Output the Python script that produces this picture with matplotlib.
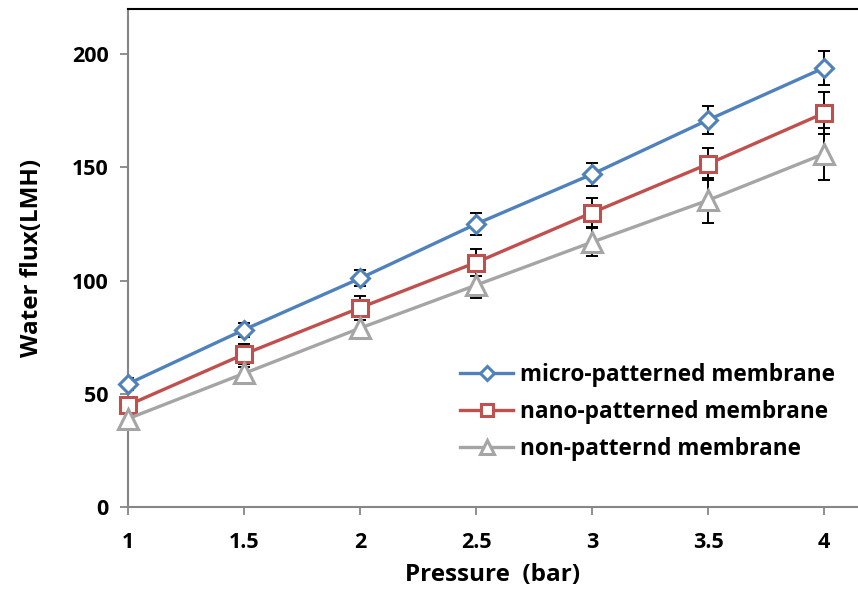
import matplotlib
matplotlib.use("Agg")
import matplotlib.pyplot as plt

plt.rcParams["font.family"] = ["Open Sans", "DejaVu Sans"]
plt.rcParams["font.weight"] = "bold"

pressure = [1, 1.5, 2, 2.5, 3, 3.5, 4]

micro_flux = [54.4, 78.3, 101, 125, 147, 171, 194]
micro_err = [2.6, 3.0, 3.5, 4.9, 5.0, 6.2, 7.5]

nano_flux = [45, 67.5, 88, 108, 130, 151.5, 174]
nano_err = [3.0, 4.4, 5.3, 6.0, 6.5, 7.0, 9.3]

non_flux = [39, 59, 79, 98, 117, 135.5, 156]
non_err = [2.0, 3.0, 4.9, 5.8, 6.2, 10.0, 11.5]

series = [
    ("micro-patterned membrane", micro_flux, micro_err, "#4F81BD", "D", 9),
    ("nano-patterned membrane", nano_flux, nano_err, "#C0504D", "s", 11),
    ("non-patternd membrane", non_flux, non_err, "#A5A5A5", "^", 14),
]

fig = plt.figure(figsize=(8.58, 5.93), dpi=100)
ax = fig.add_axes([128 / 858, 1 - 507 / 593, 1 - 128 / 858, (507 - 9) / 593])

for label, flux, err, color, marker, size in series:
    ax.errorbar(pressure, flux, yerr=err, fmt="none", ecolor="black",
                elinewidth=1.4, capsize=4, capthick=1.4, zorder=2)
    ax.plot(pressure, flux, color=color, linewidth=2.4, marker=marker,
            markersize=size, markerfacecolor="white", markeredgecolor=color,
            markeredgewidth=2.2, label=label, zorder=3, clip_on=False)

ax.set_xlim(1, 4 + 34 / 232)
ax.set_ylim(0, 220)
ax.set_xticks(pressure)
ax.set_xticklabels(["1", "1.5", "2", "2.5", "3", "3.5", "4"])
ax.set_yticks([0, 50, 100, 150, 200])

for side in ("left", "bottom"):
    ax.spines[side].set_color("#868686")
    ax.spines[side].set_linewidth(1.5)
ax.spines["top"].set_color("black")
ax.spines["top"].set_linewidth(1.5)
ax.spines["right"].set_visible(False)

ax.tick_params(axis="both", direction="out", length=6, width=1.3,
               color="#868686", labelsize=15.5, pad=8)
ax.tick_params(axis="x", pad=12)

ax.set_xlabel("Pressure  (bar)", fontsize=17.5, fontweight="bold", labelpad=7)
ax.set_ylabel("Water flux(LMH)", fontsize=17.5, fontweight="bold", labelpad=20)

ax.legend(loc="upper left", bbox_to_anchor=(460 / 858, 1 - 363 / 593),
          bbox_transform=fig.transFigure, frameon=False, fontsize=16.3,
          handlelength=2.35, handletextpad=0.3, labelspacing=0.57,
          markerscale=0.75, borderpad=0, borderaxespad=0)

fig.savefig("out.png", dpi=100, facecolor="white")
